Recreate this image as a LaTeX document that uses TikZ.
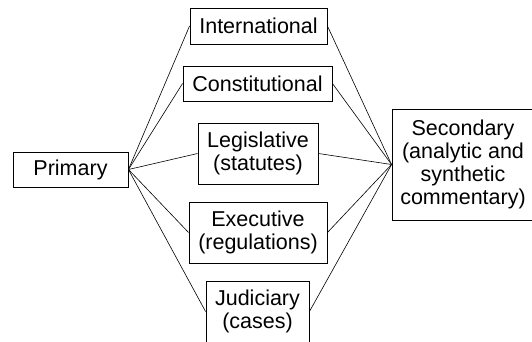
\documentclass[tikz,border=0pt]{standalone}
\usepackage{fontspec}
\setmainfont{Liberation Sans}
\begin{document}
\begin{tikzpicture}[x=1pt,y=-1pt,
  box/.style={draw=black,line width=0.9pt,fill=white,inner sep=0pt,align=center,
    font=\fontsize{21.5}{23}\selectfont},
  link/.style={draw=black,line width=0.6pt}]
\useasboundingbox (0,0) rectangle (532,341);
\clip (0,0) rectangle (532,341);
\node[box,minimum width=115pt,minimum height=35pt] (prim) at (70.5,169.5) {Primary};
\node[box,minimum width=137pt,minimum height=36pt] (intl) at (258.5,26) {International};
\node[box,minimum width=149pt,minimum height=35pt] (cons) at (257.5,83.5) {Constitutional};
\node[box,minimum width=120pt,minimum height=61pt] (legi) at (258,153.5) {Legislative\\(statutes)};
\node[box,minimum width=138pt,minimum height=61pt] (exec) at (258,232.5) {Executive\\(regulations)};
\node[box,minimum width=103pt,minimum height=61pt] (judi) at (257.5,311.5) {Judiciary\\(cases)};
\node[box,minimum width=142pt,minimum height=111pt] (seco) at (463,164.5) {Secondary\\(analytic and\\synthetic\\commentary)};
\foreach \n in {intl,cons,legi,exec,judi}{
  \draw[link] (prim.east) -- (\n.west);
  \draw[link] (\n.east) -- (seco.west);
}
\end{tikzpicture}
\end{document}
